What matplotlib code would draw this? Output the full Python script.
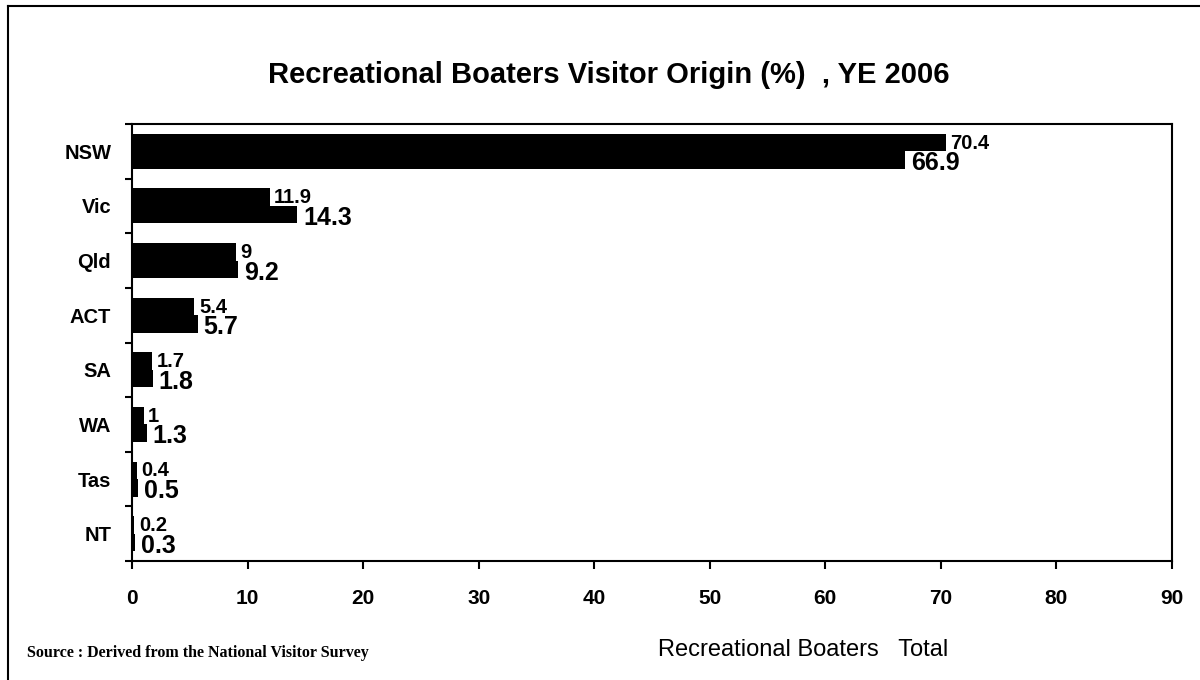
import numpy as np
import matplotlib.pyplot as plt
from matplotlib.lines import Line2D

# visitor origin by state, percent
states = ['NSW', 'Vic', 'Qld', 'ACT', 'SA', 'WA', 'Tas', 'NT']
boaters = [70.4, 11.9, 9, 5.4, 1.7, 1, 0.4, 0.2]
total = [66.9, 14.3, 9.2, 5.7, 1.8, 1.3, 0.5, 0.3]
xticks = [0, 10, 20, 30, 40, 50, 60, 70, 80, 90]

plt.rcParams['font.family'] = ['Liberation Sans', 'DejaVu Sans']

fig = plt.figure(figsize=(12, 6.8), dpi=100)
ax = fig.add_axes([0.11, 0.175, 0.8667, 0.6426])

y = np.arange(len(states))
h = 0.32
ax.barh(y - h/2, boaters, height=h, color='black')
ax.barh(y + h/2, total, height=h, color='black')

for i in range(len(states)):
    ax.text(boaters[i] + 0.4, y[i] - h/2 + 0.01, f'{boaters[i]:g}', fontsize=14.5,
            fontweight='bold', va='center', ha='left')
    ax.text(total[i] + 0.5, y[i] + h/2 + 0.06, f'{total[i]:g}', fontsize=18,
            fontweight='bold', va='center', ha='left')

ax.set_xlim(0, 90)
ax.set_ylim(len(states) - 0.5, -0.5)
ax.set_xticks(xticks)
ax.set_xticklabels([str(t) for t in xticks], fontsize=15, fontweight='bold')
ax.set_yticks(y)
ax.set_yticklabels(states, fontsize=14.5, fontweight='bold')
ax.set_yticks(np.arange(-0.5, len(states), 1), minor=True)
ax.tick_params(axis='y', which='major', length=0, pad=15)
ax.tick_params(axis='y', which='minor', length=5, width=1.5)
ax.tick_params(axis='x', length=6, width=1.5, pad=14)
for s in ax.spines.values():
    s.set_linewidth(1.5)

fig.text(0.507, 0.89, 'Recreational Boaters Visitor Origin (%)  , YE 2006',
         fontsize=21, fontweight='bold', ha='center', va='center')
fig.text(27/1200, 0.04, 'Source : Derived from the National Visitor Survey',
         family=['Liberation Serif'], fontsize=11.5, fontweight='bold',
         va='center')
fig.text(658/1200, 0.044, 'Recreational Boaters   Total', fontsize=17,
         va='center')

# page frame, top and left edges
fig.add_artist(Line2D([8/1200, 1], [1 - 6/680, 1 - 6/680], color='black',
                      lw=1.5, transform=fig.transFigure))
fig.add_artist(Line2D([8/1200, 8/1200], [0, 1 - 6/680], color='black',
                      lw=1.5, transform=fig.transFigure))

fig.savefig('out.png', dpi=100)
